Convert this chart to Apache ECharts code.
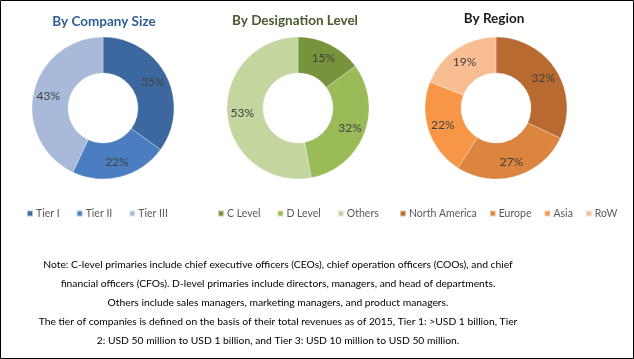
<!DOCTYPE html>
<html><head><meta charset="utf-8">
<script src="https://cdn.jsdelivr.net/npm/echarts@6/dist/echarts.min.js"></script>
<style>html,body{margin:0;padding:0;background:#fff}#c{width:634px;height:359px}</style>
</head><body><div id="c"></div>
<script>
const sizeCategories = ['Tier I', 'Tier II', 'Tier III'];
const sizeValues = [35, 22, 43];
const designationCategories = ['C Level', 'D Level', 'Others'];
const designationValues = [15, 32, 53];
const regionCategories = ['North America', 'Europe', 'Asia', 'RoW'];
const regionValues = [32, 27, 22, 19];
const titles = ['By Company Size', 'By Designation Level', 'By Region'];
const noteLines = [
  'Note: C-level primaries include chief executive officers (CEOs), chief operation officers (COOs), and chief',
  'financial officers (CFOs). D-level primaries include directors, managers, and head of departments.',
  'Others include sales managers, marketing managers, and product managers.',
  'The tier of companies is defined on the basis of their total revenues as of 2015, Tier 1: >USD 1 billion, Tier',
  '2: USD 50 million to USD 1 billion, and Tier 3: USD 10 million to USD 50 million.'
];

const sizeColors = ['#3C679F', '#4A7EC0', '#A8B9DA'];
const desColors = ['#77933C', '#9BBB59', '#C4D69F'];
const regColors = ['#B96A30', '#DB853E', '#F79646', '#F9BD92'];
const FONT = 'Lato';

function pie(cats, vals, colors, cx) {
  return {
    type: 'pie', center: [cx, 108], radius: [35, 71], startAngle: 90, clockwise: true,
    avoidLabelOverlap: false, silent: true,
    label: { show: true, position: 'inside', formatter: '{c}%', color: '#404040', fontSize: 12, fontFamily: FONT },
    labelLine: { show: false },
    itemStyle: { borderColor: 'rgba(255,255,255,0.6)', borderWidth: 0.5 },
    data: cats.map((n, i) => ({ name: n, value: vals[i], itemStyle: { color: colors[i] } }))
  };
}
function legend(cats, left, gap) {
  return {
    data: cats, left: left, top: 203, itemWidth: 6, itemHeight: 6, itemGap: gap, icon: 'rect',
    textStyle: { color: '#595959', fontSize: 10.5, fontFamily: FONT, padding: [0, 0, 0, -2] }, selectedMode: false
  };
}
const chart = echarts.init(document.getElementById('c'));
chart.setOption({
  animation: false,
  title: [
    { text: titles[0], left: 99, top: 10, textAlign: 'center', textStyle: { color: '#2F5F91', fontSize: 13.5, fontWeight: 'bold', fontFamily: FONT } },
    { text: titles[1], left: 290, top: 9, textAlign: 'center', textStyle: { color: '#4A5A2E', fontSize: 13.5, fontWeight: 'bold', fontFamily: FONT } },
    { text: titles[2], left: 489, top: 7, textAlign: 'center', textStyle: { color: '#1a1a1a', fontSize: 13.5, fontWeight: 'bold', fontFamily: FONT } }
  ],
  legend: [
    legend(sizeCategories, 21, 16),
    legend(designationCategories, 212, 16),
    legend(regionCategories, 394, 12)
  ],
  series: [
    pie(sizeCategories, sizeValues, sizeColors, 103),
    pie(designationCategories, designationValues, desColors, 298),
    pie(regionCategories, regionValues, regColors, 496)
  ],
  graphic: [
    { type: 'rect', shape: { x: 0.5, y: 0.5, width: 633, height: 358 }, style: { fill: 'none', stroke: '#000', lineWidth: 1 }, silent: true },
    { type: 'text', x: 278, y: 255, style: { text: noteLines.join('\n'), textAlign: 'center', fill: '#000', fontSize: 10.3, fontFamily: FONT, lineHeight: 19 } }
  ]
});
</script></body></html>
